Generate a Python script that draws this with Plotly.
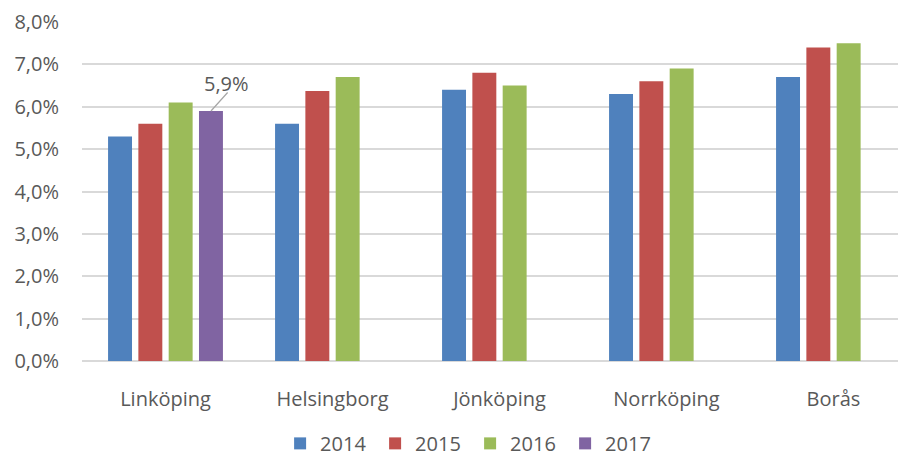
import plotly.graph_objects as go

categories = ["Linköping", "Helsingborg", "Jönköping", "Norrköping", "Borås"]
years = ["2014", "2015", "2016", "2017"]
v2014 = [5.3, 5.6, 6.4, 6.3, 6.7]
v2015 = [5.6, 6.37, 6.8, 6.6, 7.4]
v2016 = [6.1, 6.7, 6.5, 6.9, 7.5]
v2017 = [5.9, None, None, None, None]
colors = ["#4F81BD", "#C0504D", "#9BBB59", "#8064A2"]
y_ticks = [0, 1, 2, 3, 4, 5, 6, 7, 8]

series = [v2014, v2015, v2016, v2017]
font_color = "#595959"
FONT = "Open Sans"


def pct(v):
    return f"{v:.1f}".replace(".", ",") + "%"


bargap = 0.274
bargroupgap = 0.21

fig = go.Figure()
for name, vals, col in zip(years, series, colors):
    fig.add_trace(go.Bar(x=categories, y=vals, name=name, marker_color=col,
                         marker_line_width=0))

# data label for 2017 Linköping, positioned from the group layout
n = len(series)
slot = (1 - bargap) / n
offset = -(1 - bargap) / 2 + (3 + 0.5) * slot
lab_val = v2017[0]
# leader line
fig.add_annotation(x=0 + offset, y=lab_val, xref="x", yref="y", text="",
                   showarrow=True, arrowhead=0, arrowwidth=1.2, arrowcolor="#A6A6A6",
                   ax=18, ay=-20, standoff=0, startstandoff=0)
# label text
fig.add_annotation(x=0 + offset, y=lab_val, xref="x", yref="y",
                   text=pct(lab_val), showarrow=False, xshift=16, yshift=27,
                   font=dict(size=20, color=font_color, family=FONT))

fig.update_layout(
    width=898, height=447,
    margin=dict(l=74, r=0, t=14, b=94, autoexpand=False),
    paper_bgcolor="white", plot_bgcolor="white",
    barmode="group", bargap=bargap, bargroupgap=bargroupgap,
    font=dict(family=FONT, size=20, color=font_color),
    legend=dict(orientation="h", x=0.471, xanchor="center", y=-0.243, yanchor="middle",
                font=dict(size=20, color=font_color), entrywidth=50,
                traceorder="normal"),
    showlegend=True,
)
fig.update_xaxes(range=[-0.5, -0.5 + 824 / 167], showgrid=False, zeroline=False,
                 showline=False, ticks="", ticklabelstandoff=24, automargin=False,
                 tickfont=dict(size=20, color=font_color, family=FONT))
fig.update_yaxes(range=[0, 8], tickvals=y_ticks, ticktext=[pct(v) for v in y_ticks],
                 showgrid=True, gridcolor="#D9D9D9", gridwidth=1.5,
                 zeroline=True, zerolinecolor="#D9D9D9", zerolinewidth=1.5,
                 showline=False, ticks="", ticklabelstandoff=22, automargin=False,
                 tickfont=dict(size=20, color=font_color, family=FONT))

fig.write_html("out.html")
